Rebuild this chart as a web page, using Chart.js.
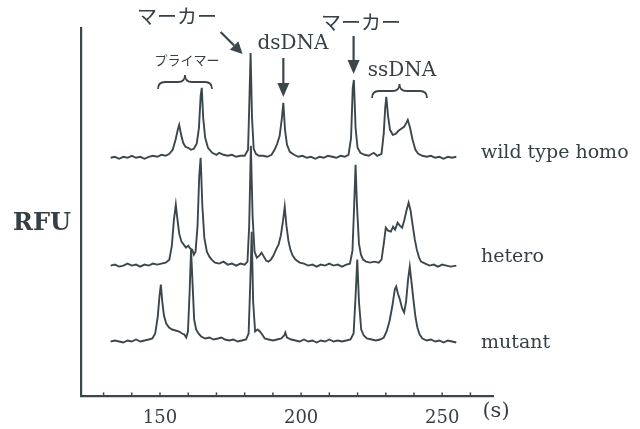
<!DOCTYPE html>
<html>
<head>
<meta charset="utf-8">
<title>Electropherogram</title>
<script src="https://cdn.jsdelivr.net/npm/chart.js@4.4.1/dist/chart.umd.min.js"></script>
<style>
  html, body { margin: 0; padding: 0; background: #fff; }
  canvas { display: block; }
</style>
</head>
<body>
<canvas id="rfuChart" width="640" height="429"></canvas>
<script>
// Data: [time (s), signal above each trace's own baseline (RFU)]
const wildType = [
  [132.5,0],[134,1],[135.5,-1],[137,1],[138.5,0],[140,2],[141.5,0],[143,1],[144.5,-1],[146,1],
  [147.5,2],[149,1],[150.5,3],[152,2],[153.3,4],[154.5,8],[155.5,18],[156.3,28],[156.8,33],[157.4,24],
  [158.2,15],[159,11],[160,10],[161,8],[162,9],[163,14],[163.8,30],[164.4,62],[164.8,70],[165.3,40],
  [166,20],[167,10],[168.5,5],[170,3],[171,5],[172.5,3],[174,2],[175.5,3],[177,1],[178.5,2],
  [180,2],[181.2,8],[181.7,60],[182.1,105],[182.6,40],[183.2,9],[184,4],[185,2],[186.5,2],[188,1],
  [189.5,3],[190.6,8],[191.5,14],[192.4,22],[193.2,40],[193.7,55],[194.3,28],[195,13],[196,6],[197.5,3],
  [199,1],[200.5,2],[202,0],[203.5,1],[205,-1],[206.5,1],[208,0],[209.5,2],[211,1],[212.5,0],
  [214,2],[215.5,1],[216.8,3],[217.7,20],[218.3,70],[218.7,78],[219.3,30],[220,10],[221,5],[222.5,3],
  [224,2],[225.7,5],[227,2],[228.5,4],[229.3,25],[229.8,50],[230.2,61],[230.8,42],[231.5,28],[232.5,23],
  [233.5,24],[234.5,27],[235.5,29],[236.5,31],[237.3,35],[237.8,38],[238.6,30],[239.5,18],[240.5,8],[241.5,4],
  [243,2],[244.5,1],[246,2],[247.5,0],[249,1],[250.5,-1],[252,1],[253.5,0],[255,1]
];
const hetero = [
  [132.5,0],[134,1],[135.5,-1],[137,0],[138.5,2],[140,0],[141.5,1],[143,-1],[144.5,1],[146,0],
  [147.5,2],[149,1],[150.5,2],[152,3],[153.3,6],[154.2,20],[154.9,45],[155.6,61],[156.1,48],[156.8,32],
  [157.6,24],[158.4,21],[159.2,18],[160,20],[160.7,17],[161.4,16],[162,11],[162.6,14],[163.3,40],[163.9,90],
  [164.4,108],[165,60],[165.7,28],[166.6,14],[167.5,9],[168.3,6],[169.5,3],[171,2],[172.5,4],[174,1],
  [175.5,2],[177,0],[178.5,2],[180,1],[181,4],[181.6,40],[182.2,120],[182.8,50],[183.5,14],[184.3,8],
  [185.2,10],[186,13],[186.8,9],[187.6,5],[188.4,4],[189.3,6],[190.2,10],[191.1,16],[192,21],[192.8,30],
  [193.6,45],[194.2,59],[194.8,40],[195.5,25],[196.2,16],[197,10],[198,6],[199.5,3],[201,2],[202.5,0],
  [204,1],[205.5,-1],[207,1],[208.5,0],[210,2],[211.5,0],[213,1],[214.5,-1],[216,1],[217.3,2],
  [218.2,15],[218.8,60],[219.3,101],[219.8,60],[220.5,22],[221.2,11],[222,6],[223,4],[224.5,3],[226,4],
  [227.5,3],[228.5,6],[229.3,22],[230,38],[230.8,35],[231.8,34],[232.6,39],[233.3,36],[234.2,43],[235,40],
  [235.8,38],[236.6,46],[237.4,56],[238.1,63],[238.8,55],[239.5,41],[240.3,26],[241,16],[241.8,8],[242.5,4],
  [244,2],[245.5,0],[247,1],[248.5,-1],[250,1],[251.5,0],[253,-1],[255,0]
];
const mutant = [
  [132.5,0],[134,1],[135.5,0],[137,-1],[138.5,1],[140,0],[141.5,2],[143,0],[144.5,1],[146,2],
  [147.3,3],[148.3,8],[149.2,25],[149.8,45],[150.3,57],[150.8,40],[151.4,26],[152.2,18],[153.2,14],[154.3,12],
  [155.5,11],[156.8,10],[157.8,8],[158.6,7],[159.3,4],[159.9,10],[160.5,50],[161,92],[161.5,60],[162.1,22],
  [162.8,12],[163.6,8],[164.6,5],[166,3],[167.5,4],[169,2],[170.5,3],[171.8,4],[173,2],[174.5,1],
  [176,2],[177.5,0],[179,1],[180.5,2],[181.4,8],[182,60],[182.5,110],[183,40],[183.7,10],[184.6,12],
  [185.4,10],[186.2,7],[187.1,3],[188.5,2],[190,1],[191.5,2],[193,3],[194,6],[194.4,9],[195,4],
  [196.5,2],[198,1],[199.5,0],[201,2],[202.5,0],[204,1],[205.5,-1],[207,1],[208.5,0],[210,2],
  [211.5,0],[213,1],[214.5,0],[216,1],[217.5,2],[218.6,8],[219.3,45],[219.9,82],[220.5,40],[221.3,12],
  [222.2,6],[223.3,3],[225,2],[226.5,1],[228,2],[229.3,4],[230.3,10],[231.3,20],[232.3,35],[233.2,52],
  [233.7,55],[234.3,48],[235,42],[235.8,33],[236.5,29],[237.2,40],[237.9,62],[238.5,75],[239.1,60],[239.8,42],
  [240.5,25],[241.2,14],[242,7],[243,3],[244.5,1],[246,2],[247.5,0],[249,1],[250.5,-1],[252,1],
  [253.5,0],[255,-1]
];

const seriesNames = ["wild type homo", "hetero", "mutant"];
const xTickLabels = [150, 200, 250];
const markerTimes = [182.1, 218.6];
const dsDnaTime = 193.7;

// vertical offset of each trace on the shared RFU axis (display stacking)
const traceBase = [239, 131, 55];

const ink = "#3c474c";
const textInk = "#353f44";
const serif = "'DejaVu Serif', 'Liberation Serif', serif";
const jp = "'Noto Sans CJK JP', sans-serif";

const traces = [wildType, hetero, mutant];

function brace(ctx, x1, x2, y, h) {
  const xm = (x1 + x2) / 2;
  ctx.beginPath();
  ctx.moveTo(x1, y + h);
  ctx.quadraticCurveTo(x1, y, x1 + h, y);
  ctx.lineTo(xm - h, y);
  ctx.quadraticCurveTo(xm, y, xm, y - h);
  ctx.quadraticCurveTo(xm, y, xm + h, y);
  ctx.lineTo(x2 - h, y);
  ctx.quadraticCurveTo(x2, y, x2, y + h);
  ctx.stroke();
}

function arrow(ctx, x1, y1, x2, y2, len, half) {
  const a = Math.atan2(y2 - y1, x2 - x1);
  const bx = x2 - len * Math.cos(a), by = y2 - len * Math.sin(a);
  ctx.beginPath();
  ctx.moveTo(x1, y1);
  ctx.lineTo(bx, by);
  ctx.stroke();
  ctx.beginPath();
  ctx.moveTo(x2, y2);
  ctx.lineTo(bx + half * Math.sin(a), by - half * Math.cos(a));
  ctx.lineTo(bx - half * Math.sin(a), by + half * Math.cos(a));
  ctx.closePath();
  ctx.fill();
}

const annotations = {
  id: "annotations",
  afterDraw(chart) {
    const ctx = chart.ctx;
    const xs = chart.scales.x;
    const area = chart.chartArea;
    ctx.save();

    // inward tick marks
    ctx.strokeStyle = ink;
    ctx.lineWidth = 1.5;
    xs.ticks.forEach(t => {
      const px = xs.getPixelForValue(t.value);
      ctx.beginPath();
      ctx.moveTo(px, area.bottom);
      ctx.lineTo(px, area.bottom - 4);
      ctx.stroke();
    });

    ctx.fillStyle = textInk;
    ctx.textAlign = "center";
    ctx.textBaseline = "middle";

    ctx.font = "bold 24px " + serif;
    ctx.fillText("RFU", 42, 224);

    ctx.font = "21px " + serif;
    ctx.fillText("(s)", 496, 412);

    // trace names
    ctx.font = "19px " + serif;
    ctx.textAlign = "left";
    const nameY = [153, 257, 343];
    seriesNames.forEach((n, i) => ctx.fillText(n, 481, nameY[i]));

    // peak labels
    ctx.textAlign = "center";
    ctx.font = "20px " + jp;
    ctx.fillText("マーカー", 177, 16);
    ctx.fillText("マーカー", 361, 22);
    ctx.font = "13px " + jp;
    ctx.fillText("プライマー", 187, 60);
    ctx.font = "20px " + serif;
    ctx.fillText("dsDNA", 293, 44);
    ctx.fillText("ssDNA", 402, 71);

    ctx.strokeStyle = ink;
    ctx.fillStyle = ink;
    ctx.lineWidth = 2.2;
    const m1 = xs.getPixelForValue(markerTimes[0]);
    const m2 = xs.getPixelForValue(markerTimes[1]);
    const ds = xs.getPixelForValue(dsDnaTime);
    arrow(ctx, m1 - 30, 32, m1 - 8, 54, 12, 6);
    arrow(ctx, ds, 58, ds, 97, 14, 6);
    arrow(ctx, m2, 36, m2, 74, 14, 6);

    ctx.lineWidth = 1.8;
    brace(ctx, 158, 212, 82, 7);
    brace(ctx, 372, 427, 91, 7);

    ctx.restore();
  }
};

const datasets = traces.map((tr, i) => ({
  label: seriesNames[i],
  data: tr.map(p => ({ x: p[0], y: p[1] + traceBase[i] })),
  borderColor: ink,
  borderWidth: 1.9,
  pointRadius: 0,
  tension: 0,
  fill: false
}));

new Chart(document.getElementById("rfuChart"), {
  type: "line",
  data: { datasets: datasets },
  options: {
    responsive: false,
    animation: false,
    layout: { padding: { left: 81, right: 147, top: 28, bottom: -11 } },
    plugins: {
      legend: { display: false },
      tooltip: { enabled: false }
    },
    scales: {
      x: {
        type: "linear",
        min: 122,
        max: 268,
        grid: { display: true, drawOnChartArea: false, drawTicks: false },
        border: { display: true, color: ink, width: 2.2 },
        ticks: {
          stepSize: 10,
          includeBounds: false,
          autoSkip: false,
          maxRotation: 0,
          padding: 11,
          color: textInk,
          font: { family: "'DejaVu Serif', serif", size: 18 },
          callback: v => xTickLabels.includes(v) ? String(v) : ""
        }
      },
      y: {
        min: 0,
        max: 369,
        grid: { display: true, drawOnChartArea: false, drawTicks: false },
        border: { display: true, color: ink, width: 2.2 },
        ticks: { display: false }
      }
    }
  },
  plugins: [annotations]
});
</script>
</body>
</html>
